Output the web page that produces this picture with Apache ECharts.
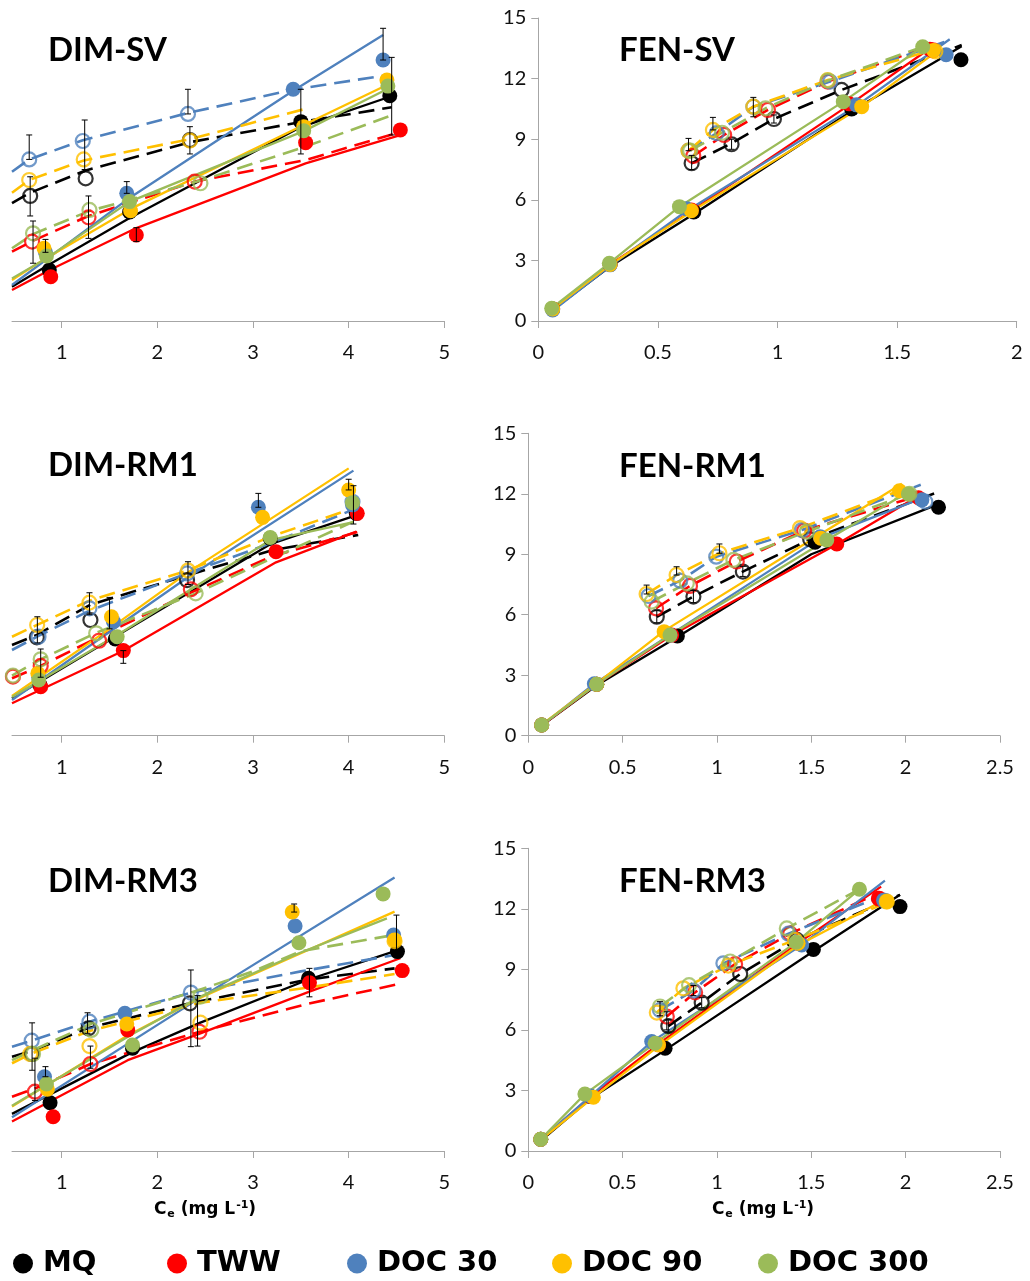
<!DOCTYPE html>
<html>
<head>
<meta charset="utf-8">
<title>Sorption isotherms</title>
<script src="https://cdn.jsdelivr.net/npm/echarts@6/dist/echarts.min.js"></script>
<style>
  html, body { margin: 0; padding: 0; background: #ffffff; }
  #chart { width: 1030px; height: 1281px; }
</style>
</head>
<body>
<div id="chart"></div>
<script>
// Water matrices (series order used by every array below)
const seriesNames = ['MQ', 'TWW', 'DOC 30', 'DOC 90', 'DOC 300'];
const seriesColors = ['#000000', '#FF0000', '#4F81BD', '#FFC000', '#9BBB59'];
const panelTitles = ['DIM-SV', 'FEN-SV', 'DIM-RM1', 'FEN-RM1', 'DIM-RM3', 'FEN-RM3'];
const dimTicks = [1, 2, 3, 4, 5];
const fenTicksSV = [0, 0.5, 1, 1.5, 2];
const fenTicksRM = [0, 0.5, 1, 1.5, 2, 2.5];
const yTicks = [0, 3, 6, 9, 12, 15];

// ---------- DIM-SV ----------
// sorption points (filled), sorption fit (solid), desorption points (open), desorption fit (dashed)
const dimSV_sorb = [
  [[0.87, 2.52], [1.71, 5.40], [3.50, 9.87], [4.43, 11.15]],
  [[0.885, 2.19], [1.78, 4.26], [3.55, 8.83], [4.54, 9.46]],
  [[0.83, 3.40], [1.68, 6.32], [3.42, 11.47], [4.36, 12.92]],
  [[0.815, 3.60], [1.72, 5.46], [3.53, 9.62], [4.40, 11.93]],
  [[0.84, 3.22], [1.71, 5.91], [3.53, 9.42], [4.41, 11.63]]
];
const dimSV_sorbFit = [
  [[0.48, 1.70], [0.87, 2.80], [1.71, 5.10], [3.50, 9.60], [4.43, 11.10]],
  [[0.48, 1.53], [0.885, 2.55], [1.78, 4.60], [3.55, 7.80], [4.54, 9.20]],
  [[0.48, 1.78], [1.68, 6.00], [3.42, 11.40], [4.36, 14.16]],
  [[0.48, 2.03], [0.815, 3.05], [1.72, 5.55], [3.53, 9.70], [4.40, 11.68]],
  [[0.48, 2.11], [0.84, 3.10], [1.71, 5.91], [3.53, 9.40], [4.41, 11.50]]
];
const dimSV_desorb = [
  [[0.67, 6.19], [1.25, 7.06], [2.34, 8.96]],
  [[0.69, 3.93], [1.28, 5.13], [2.39, 6.90]],
  [[0.66, 8.00], [1.22, 8.91], [2.32, 10.25]],
  [[0.66, 6.98], [1.23, 8.00], [2.34, 8.93]],
  [[0.70, 4.34], [1.29, 5.50], [2.45, 6.82]]
];
const dimSV_desorbFit = [
  [[0.48, 5.83], [0.67, 6.35], [1.25, 7.45], [2.34, 8.85], [3.50, 9.85], [4.45, 10.58]],
  [[0.48, 3.43], [0.69, 3.95], [1.28, 5.20], [2.39, 6.90], [3.55, 7.97], [4.50, 9.30]],
  [[0.48, 7.39], [0.66, 8.00], [1.22, 8.95], [2.32, 10.30], [3.42, 11.45], [4.41, 12.18]],
  [[0.48, 6.35], [0.66, 6.98], [1.23, 7.95], [2.34, 9.00], [3.53, 10.48]],
  [[0.48, 3.60], [0.70, 4.30], [1.29, 5.45], [2.45, 6.95], [3.53, 8.60], [4.43, 10.15]]
];
const dimSV_err = [
  [0.66, 8.00, 9.21], [0.67, 5.20, 7.14], [0.70, 2.86, 4.95], [1.24, 7.50, 9.95],
  [1.28, 4.09, 6.19], [2.32, 10.25, 11.47], [2.34, 8.27, 9.62], [1.68, 6.32, 6.90],
  [0.83, 3.40, 4.04], [1.78, 3.93, 4.62], [3.50, 8.27, 11.47], [4.36, 12.92, 14.49],
  [4.45, 9.21, 13.05]
];

// ---------- FEN-SV ----------
const fenSV_sorb = [
  [[0.06, 0.60], [0.30, 2.80], [0.65, 5.40], [1.31, 10.50], [1.767, 12.93]],
  [[0.06, 0.60], [0.30, 2.80], [0.64, 5.50], [1.30, 10.75], [1.637, 13.45]],
  [[0.06, 0.55], [0.30, 2.78], [0.62, 5.56], [1.33, 10.70], [1.705, 13.18]],
  [[0.06, 0.60], [0.30, 2.80], [0.64, 5.46], [1.352, 10.61], [1.652, 13.39]],
  [[0.056, 0.63], [0.297, 2.86], [0.59, 5.66], [1.275, 10.86], [1.607, 13.58]]
];
const fenSV_sorbFit = [
  [[0.06, 0.55], [0.30, 2.70], [0.65, 5.30], [1.31, 10.40], [1.77, 13.60]],
  [[0.06, 0.60], [0.30, 2.80], [0.64, 5.45], [1.30, 10.70], [1.65, 13.60]],
  [[0.06, 0.50], [0.30, 2.72], [0.62, 5.45], [1.33, 10.65], [1.72, 13.95]],
  [[0.06, 0.60], [0.30, 2.78], [0.64, 5.42], [1.352, 10.60], [1.66, 13.30]],
  [[0.056, 0.63], [0.297, 2.86], [0.59, 5.66], [1.275, 10.86], [1.607, 13.58]]
];
const fenSV_desorb = [
  [[0.641, 7.81], [0.808, 8.75], [0.985, 10.00], [1.268, 11.44]],
  [[0.648, 8.17], [0.777, 9.21], [0.96, 10.45], [1.21, 11.85], [1.65, 13.40]],
  [[0.628, 8.43], [0.746, 9.30], [0.899, 10.61], [1.22, 11.85]],
  [[0.628, 8.43], [0.73, 9.46], [0.899, 10.61], [1.21, 11.93], [1.66, 13.35]],
  [[0.635, 8.43], [0.768, 9.32], [0.95, 10.53], [1.21, 11.90]]
];
const fenSV_desorbFit = [
  [[0.641, 7.81], [0.808, 8.80], [0.985, 10.00], [1.268, 11.44], [1.77, 13.66]],
  [[0.648, 8.17], [0.777, 9.21], [0.96, 10.45], [1.21, 11.85], [1.66, 13.70]],
  [[0.628, 8.43], [0.746, 9.30], [0.899, 10.61], [1.22, 11.85], [1.72, 13.90]],
  [[0.628, 8.43], [0.73, 9.46], [0.899, 10.61], [1.21, 11.93], [1.66, 13.45]],
  [[0.635, 8.43], [0.768, 9.32], [0.95, 10.53], [1.21, 11.90], [1.607, 13.58]]
];
const fenSV_err = [
  [0.628, 8.43, 9.04], [0.73, 9.46, 10.08], [0.899, 10.11, 11.07],
  [0.641, 7.50, 8.20], [0.808, 8.50, 9.00], [0.985, 9.80, 10.20]
];

// ---------- DIM-RM1 ----------
const dimRM1_sorb = [
  [[0.773, 2.51], [1.56, 4.80], [3.18, 9.79], [4.08, 11.03]],
  [[0.78, 2.43], [1.644, 4.22], [3.24, 9.13], [4.09, 11.03]],
  [[0.76, 2.90], [1.54, 5.66], [3.056, 11.33], [4.04, 11.45]],
  [[0.75, 3.09], [1.52, 5.90], [3.10, 10.83], [4.00, 12.19]],
  [[0.76, 2.76], [1.58, 4.91], [3.18, 9.83], [4.04, 11.56]]
];
const dimRM1_sorbFit = [
  [[0.48, 1.86], [1.50, 4.75], [3.18, 9.50], [4.06, 10.90]],
  [[0.48, 1.61], [1.64, 4.20], [3.24, 8.60], [4.08, 10.12]],
  [[0.48, 1.77], [2.30, 7.80], [4.05, 13.15]],
  [[0.48, 1.97], [1.50, 5.30], [2.32, 8.10], [4.00, 13.26]],
  [[0.48, 1.92], [1.58, 5.00], [3.18, 9.70], [4.05, 10.60]]
];
const dimRM1_desorb = [
  [[0.74, 4.88], [1.30, 5.74], [2.31, 7.72]],
  [[0.49, 2.93], [0.78, 3.46], [1.39, 4.71], [2.35, 7.26]],
  [[0.757, 4.91], [1.29, 6.32], [2.31, 8.05], [4.04, 11.60]],
  [[0.743, 5.49], [1.29, 6.60], [2.32, 8.19]],
  [[0.49, 2.98], [0.78, 3.79], [1.36, 5.08], [2.40, 7.06]]
];
const dimRM1_desorbFit = [
  [[0.48, 4.50], [0.74, 5.00], [1.30, 6.50], [2.31, 7.95], [3.20, 9.20], [4.10, 9.96]],
  [[0.48, 2.85], [0.78, 3.46], [1.39, 4.90], [2.35, 7.10], [3.20, 8.90], [4.09, 10.10]],
  [[0.48, 4.25], [0.757, 4.95], [1.29, 6.20], [2.31, 8.05], [3.20, 9.57], [4.04, 11.20]],
  [[0.48, 4.91], [0.743, 5.50], [1.29, 6.70], [2.32, 8.20], [3.20, 9.90], [4.00, 11.20]],
  [[0.48, 2.98], [0.78, 3.79], [1.36, 5.10], [2.40, 7.06], [3.20, 8.80], [4.05, 10.62]]
];
const dimRM1_err = [
  [0.745, 4.60, 5.90], [0.78, 2.90, 4.30], [1.29, 6.00, 7.09], [1.50, 5.30, 6.86],
  [1.644, 3.59, 4.22], [2.32, 7.50, 8.63], [3.056, 11.33, 12.02], [4.00, 12.19, 12.72],
  [4.05, 10.50, 12.40]
];

// ---------- FEN-RM1 ----------
const fenRM1_sorb = [
  [[0.071, 0.53], [0.363, 2.55], [0.79, 4.95], [1.52, 9.60], [2.174, 11.33]],
  [[0.071, 0.53], [0.363, 2.55], [0.76, 4.99], [1.635, 9.51], [2.068, 11.80]],
  [[0.071, 0.53], [0.35, 2.58], [0.751, 4.99], [1.547, 9.87], [2.086, 11.70]],
  [[0.071, 0.53], [0.363, 2.55], [0.72, 5.16], [1.55, 9.80], [1.967, 12.15]],
  [[0.071, 0.53], [0.363, 2.55], [0.751, 4.99], [1.582, 9.71], [2.015, 11.99]]
];
const fenRM1_sorbFit = [
  [[0.071, 0.50], [0.363, 2.50], [0.79, 4.90], [1.50, 9.00], [2.15, 11.40]],
  [[0.071, 0.50], [0.363, 2.55], [0.76, 4.98], [1.635, 9.50], [2.07, 11.90]],
  [[0.071, 0.50], [0.35, 2.58], [0.751, 5.00], [1.547, 9.80], [2.09, 11.80]],
  [[0.071, 0.55], [0.363, 2.60], [0.72, 5.20], [1.55, 10.00], [1.98, 12.50]],
  [[0.071, 0.53], [0.363, 2.55], [0.751, 5.00], [1.582, 9.71], [2.015, 12.10]]
];
const fenRM1_desorb = [
  [[0.681, 5.90], [0.875, 6.90], [1.137, 8.14], [1.494, 9.74]],
  [[0.677, 6.32], [0.857, 7.43], [1.105, 8.64], [1.462, 10.17]],
  [[0.637, 6.93], [0.805, 7.69], [0.996, 8.88], [1.45, 10.20], [2.104, 11.61]],
  [[0.627, 7.03], [0.786, 7.97], [1.013, 9.05], [1.44, 10.30]],
  [[0.654, 6.65], [0.84, 7.56], [1.087, 8.72], [1.476, 10.12], [2.02, 12.00]]
];
const fenRM1_desorbFit = [
  [[0.681, 5.90], [0.875, 6.90], [1.137, 8.14], [1.494, 9.74], [2.165, 12.06]],
  [[0.677, 6.32], [0.857, 7.43], [1.105, 8.64], [1.462, 10.17], [2.07, 11.90]],
  [[0.637, 6.93], [0.805, 7.69], [0.996, 8.88], [1.45, 10.20], [2.08, 12.45]],
  [[0.627, 7.03], [0.786, 7.97], [1.013, 9.05], [1.44, 10.30], [1.98, 12.20]],
  [[0.654, 6.65], [0.84, 7.56], [1.087, 8.72], [1.476, 10.12], [2.02, 12.00]]
];
const fenRM1_err = [
  [0.627, 7.03, 7.47], [0.786, 7.97, 8.38], [1.013, 9.05, 9.51],
  [0.681, 5.60, 6.20], [0.875, 6.60, 7.20], [1.137, 7.90, 8.40]
];

// ---------- DIM-RM3 ----------
const dimRM3_sorb = [
  [[0.878, 2.39], [1.74, 5.09], [3.58, 8.56], [4.51, 9.88]],
  [[0.91, 1.70], [1.69, 6.00], [3.59, 8.34], [4.56, 8.94]],
  [[0.82, 3.68], [1.66, 6.82], [3.44, 11.15], [4.47, 10.70]],
  [[0.85, 3.06], [1.68, 6.29], [3.41, 11.84], [4.48, 10.46]],
  [[0.84, 3.32], [1.74, 5.25], [3.48, 10.32], [4.36, 12.74]]
];
const dimRM3_sorbFit = [
  [[0.48, 1.84], [1.74, 4.90], [2.45, 6.36], [3.58, 8.50], [4.50, 9.93]],
  [[0.48, 1.46], [1.69, 4.50], [2.45, 5.83], [3.59, 7.90], [4.54, 9.55]],
  [[0.48, 1.67], [2.45, 7.60], [4.48, 13.55]],
  [[0.48, 2.20], [1.68, 5.70], [2.45, 7.60], [3.50, 9.80], [4.48, 11.86]],
  [[0.48, 2.24], [1.74, 5.80], [2.45, 7.65], [3.48, 9.80], [4.40, 11.53]]
];
const dimRM3_desorb = [
  [[0.686, 4.81], [1.28, 6.08], [2.34, 7.32]],
  [[0.72, 2.94], [1.30, 4.31], [2.44, 5.91]],
  [[0.686, 5.47], [1.29, 6.41], [2.35, 7.85]],
  [[0.67, 4.81], [1.29, 5.20], [2.45, 6.36], [4.48, 10.40]],
  [[0.70, 4.81], [1.31, 6.00], [2.45, 7.65]]
];
const dimRM3_desorbFit = [
  [[0.48, 4.67], [0.686, 4.95], [1.28, 6.10], [2.34, 7.32], [3.58, 8.50], [4.48, 9.05]],
  [[0.48, 2.69], [0.72, 3.10], [1.30, 4.31], [2.44, 5.91], [3.58, 7.30], [4.56, 8.31]],
  [[0.48, 5.17], [0.686, 5.47], [1.29, 6.41], [2.35, 7.85], [3.50, 8.90], [4.48, 9.71]],
  [[0.48, 4.35], [0.67, 4.80], [1.29, 5.95], [2.45, 7.35], [3.58, 8.10], [4.48, 8.77]],
  [[0.48, 4.50], [0.70, 5.00], [1.31, 6.30], [2.45, 8.00], [3.00, 8.90], [3.50, 9.90], [4.47, 10.70]]
];
const dimRM3_err = [
  [0.69, 4.00, 6.35], [0.72, 2.50, 4.60], [0.83, 3.68, 4.18], [1.27, 5.83, 6.85],
  [1.30, 4.10, 5.20], [2.35, 5.17, 8.97], [2.42, 5.20, 7.70], [3.59, 7.64, 9.05],
  [3.43, 11.84, 12.24], [4.50, 9.90, 11.69]
];

// ---------- FEN-RM3 ----------
const fenRM3_sorb = [
  [[0.066, 0.58], [0.33, 2.70], [0.725, 5.09], [1.511, 9.99], [1.97, 12.11]],
  [[0.066, 0.58], [0.33, 2.70], [0.69, 5.26], [1.43, 10.30], [1.856, 12.52]],
  [[0.066, 0.58], [0.33, 2.72], [0.654, 5.42], [1.449, 10.21], [1.883, 12.43]],
  [[0.066, 0.58], [0.345, 2.66], [0.69, 5.26], [1.43, 10.30], [1.90, 12.36]],
  [[0.066, 0.58], [0.30, 2.82], [0.672, 5.34], [1.42, 10.35], [1.755, 12.97]]
];
const fenRM3_sorbFit = [
  [[0.066, 0.50], [0.33, 2.60], [0.725, 5.00], [1.511, 9.90], [1.97, 12.70]],
  [[0.066, 0.55], [0.33, 2.70], [0.69, 5.30], [1.43, 10.30], [1.87, 13.10]],
  [[0.066, 0.55], [0.33, 2.72], [0.654, 5.42], [1.449, 10.21], [1.89, 13.40]],
  [[0.066, 0.55], [0.345, 2.66], [0.69, 5.20], [1.43, 10.20], [1.90, 12.50]],
  [[0.066, 0.58], [0.30, 2.82], [0.672, 5.34], [1.42, 10.35], [1.755, 12.97]]
];
const fenRM3_desorb = [
  [[0.742, 6.19], [0.919, 7.35], [1.123, 8.77], [1.423, 10.46]],
  [[0.734, 6.66], [0.884, 7.86], [1.096, 9.26], [1.388, 10.77], [1.86, 12.50]],
  [[0.698, 6.98], [0.875, 7.95], [1.034, 9.30], [1.379, 10.77], [1.89, 12.40]],
  [[0.681, 6.86], [0.822, 8.06], [1.06, 9.19], [1.414, 10.46], [1.90, 12.36]],
  [[0.698, 7.16], [0.852, 8.22], [1.07, 9.39], [1.37, 11.03]]
];
const fenRM3_desorbFit = [
  [[0.742, 6.19], [0.919, 7.35], [1.123, 8.77], [1.423, 10.46], [1.97, 12.69]],
  [[0.734, 6.66], [0.884, 7.86], [1.096, 9.26], [1.388, 10.77], [1.86, 12.80]],
  [[0.698, 6.98], [0.875, 7.95], [1.034, 9.30], [1.379, 10.77], [1.89, 12.70]],
  [[0.681, 6.86], [0.822, 8.06], [1.06, 9.19], [1.414, 10.46], [1.90, 12.30]],
  [[0.698, 7.16], [0.852, 8.22], [1.07, 9.39], [1.37, 11.03], [1.755, 12.97]]
];
const fenRM3_err = [
  [0.698, 6.70, 7.40], [0.734, 6.00, 6.90], [0.742, 5.90, 6.50],
  [0.875, 7.70, 8.20], [0.919, 7.10, 7.60]
];

// ---------- layout ----------
const FONT = 'Lato';
const WIDE_FONT = 'DejaVu Sans';
const AXIS_GREY = '#A6A6A6';
const grids = [
  { left: 12,    top: 18,    width: 432.3, height: 303 },
  { left: 538.3, top: 18,    width: 478.4, height: 303 },
  { left: 12,    top: 433.3, width: 432.3, height: 302.4 },
  { left: 528.3, top: 433.3, width: 471.7, height: 302.4 },
  { left: 12,    top: 848.3, width: 432.3, height: 302.7 },
  { left: 528.3, top: 848.3, width: 471.7, height: 302.7 }
].map(g => Object.assign({ outerBoundsMode: 'none', containLabel: false }, g));

const panels = [
  { sorb: dimSV_sorb,  sorbFit: dimSV_sorbFit,  desorb: dimSV_desorb,  desorbFit: dimSV_desorbFit,  err: dimSV_err },
  { sorb: fenSV_sorb,  sorbFit: fenSV_sorbFit,  desorb: fenSV_desorb,  desorbFit: fenSV_desorbFit,  err: fenSV_err },
  { sorb: dimRM1_sorb, sorbFit: dimRM1_sorbFit, desorb: dimRM1_desorb, desorbFit: dimRM1_desorbFit, err: dimRM1_err },
  { sorb: fenRM1_sorb, sorbFit: fenRM1_sorbFit, desorb: fenRM1_desorb, desorbFit: fenRM1_desorbFit, err: fenRM1_err },
  { sorb: dimRM3_sorb, sorbFit: dimRM3_sorbFit, desorb: dimRM3_desorb, desorbFit: dimRM3_desorbFit, err: dimRM3_err },
  { sorb: fenRM3_sorb, sorbFit: fenRM3_sorbFit, desorb: fenRM3_desorb, desorbFit: fenRM3_desorbFit, err: fenRM3_err }
];

const labelStyle = { fontFamily: FONT, fontSize: 20, color: '#111111' };

function xAxisFor(i) {
  const isDim = i % 2 === 0;
  const base = {
    gridIndex: i, type: 'value',
    axisLine: { show: true, onZero: false, lineStyle: { color: AXIS_GREY, width: 1 } },
    axisTick: { show: true, inside: false, length: 7, lineStyle: { color: AXIS_GREY } },
    splitLine: { show: false },
    axisLabel: Object.assign({ margin: 22 }, labelStyle)
  };
  if (isDim) {
    base.min = 0.48; base.max = 5;
    base.axisTick.customValues = dimTicks;
    base.axisLabel.customValues = dimTicks;
  } else {
    const ticks = i === 1 ? fenTicksSV : fenTicksRM;
    base.min = 0; base.max = ticks[ticks.length - 1]; base.interval = 0.5;
    base.axisLabel.formatter = v => String(v);
  }
  return base;
}

function yAxisFor(i) {
  const isDim = i % 2 === 0;
  return {
    gridIndex: i, type: 'value', min: yTicks[0], max: yTicks[yTicks.length - 1], interval: 3,
    show: !isDim,
    axisLine: { show: true, lineStyle: { color: AXIS_GREY, width: 1 } },
    axisTick: { show: true, length: 7, lineStyle: { color: AXIS_GREY } },
    splitLine: { show: false },
    axisLabel: Object.assign({ margin: 12 }, labelStyle)
  };
}

function errorBarRender(params, api) {
  const x = api.value(0);
  const lo = api.coord([x, api.value(1)]);
  const hi = api.coord([x, api.value(2)]);
  const cap = 3;
  const st = { stroke: '#000000', lineWidth: 1 };
  return {
    type: 'group',
    children: [
      { type: 'line', shape: { x1: lo[0], y1: lo[1], x2: hi[0], y2: hi[1] }, style: st },
      { type: 'line', shape: { x1: lo[0] - cap, y1: lo[1], x2: lo[0] + cap, y2: lo[1] }, style: st },
      { type: 'line', shape: { x1: hi[0] - cap, y1: hi[1], x2: hi[0] + cap, y2: hi[1] }, style: st }
    ]
  };
}

const series = [];
panels.forEach((p, i) => {
  for (let k = 0; k < seriesNames.length; k++) {
    const color = seriesColors[k];
    const common = { name: seriesNames[k], xAxisIndex: i, yAxisIndex: i, silent: true, animation: false };
    series.push(Object.assign({}, common, {
      type: 'line', data: p.sorbFit[k], symbol: 'none', z: 2,
      itemStyle: { color }, lineStyle: { color, width: 2.3 }
    }));
    series.push(Object.assign({}, common, {
      type: 'line', data: p.desorbFit[k], symbol: 'none', z: 2,
      itemStyle: { color }, lineStyle: { color, width: 2.6, type: [16, 8] }
    }));
    series.push(Object.assign({}, common, {
      type: 'scatter', data: p.sorb[k], symbol: 'circle', symbolSize: 15, z: 3,
      itemStyle: { color, opacity: 1 }
    }));
    series.push(Object.assign({}, common, {
      type: 'scatter', data: p.desorb[k], symbol: 'circle', symbolSize: 14, z: 3,
      itemStyle: { color: 'rgba(255,255,255,0)', borderColor: color, borderWidth: 2.2 }
    }));
  }
  series.push({
    type: 'custom', xAxisIndex: i, yAxisIndex: i, silent: true, animation: false, z: 4,
    renderItem: errorBarRender, encode: { x: 0, y: [1, 2] }, data: p.err, clip: true
  });
});

const titlePos = [
  { left: 48, top: 34 }, { left: 619, top: 34 },
  { left: 48, top: 449 }, { left: 619, top: 450 },
  { left: 48, top: 865 }, { left: 619, top: 865 }
];
const titles = panelTitles.map((t, i) => ({
  text: t, left: titlePos[i].left, top: titlePos[i].top, padding: 0,
  textStyle: { fontFamily: FONT, fontWeight: 'bold', fontSize: 33, color: '#000000' }
}));

const axisTitleRich = {
  m: { fontFamily: WIDE_FONT, fontWeight: 'bold', fontSize: 17, fill: '#000000', color: '#000000' },
  s: { fontFamily: WIDE_FONT, fontWeight: 'bold', fontSize: 11, fill: '#000000', color: '#000000', padding: [9, 0, 0, 1] },
  p: { fontFamily: WIDE_FONT, fontWeight: 'bold', fontSize: 11, fill: '#000000', color: '#000000', padding: [0, 0, 9, 1] }
};
const axisTitleText = '{m|C}{s|e}{m| (mg L}{p|-1}{m|)}';
const axisTitleX = [205, 763];

// one legend block per matrix so each entry sits at its own place
const legendLeft = [13, 167, 347, 552, 758];
const legends = seriesNames.map((n, k) => ({
  left: legendLeft[k], top: 1249, padding: 0,
  itemWidth: 20, itemHeight: 20, selectedMode: false,
  textStyle: { fontFamily: WIDE_FONT, fontWeight: 'bold', fontSize: 29, color: '#000000', padding: [0, 0, 0, 5] },
  data: [{ name: n, icon: 'circle', itemStyle: { color: seriesColors[k], borderWidth: 0 } }]
}));

const option = {
  backgroundColor: '#ffffff',
  animation: false,
  title: titles,
  grid: grids,
  xAxis: grids.map((g, i) => xAxisFor(i)),
  yAxis: grids.map((g, i) => yAxisFor(i)),
  legend: legends,
  graphic: axisTitleX.map(x => ({
    type: 'text', x: x, y: 1210,
    style: { text: axisTitleText, rich: axisTitleRich, align: 'center', verticalAlign: 'middle' }
  })),
  series: series
};

const chart = echarts.init(document.getElementById('chart'), null, { renderer: 'canvas', width: 1030, height: 1281 });
chart.setOption(option);
</script>
</body>
</html>
